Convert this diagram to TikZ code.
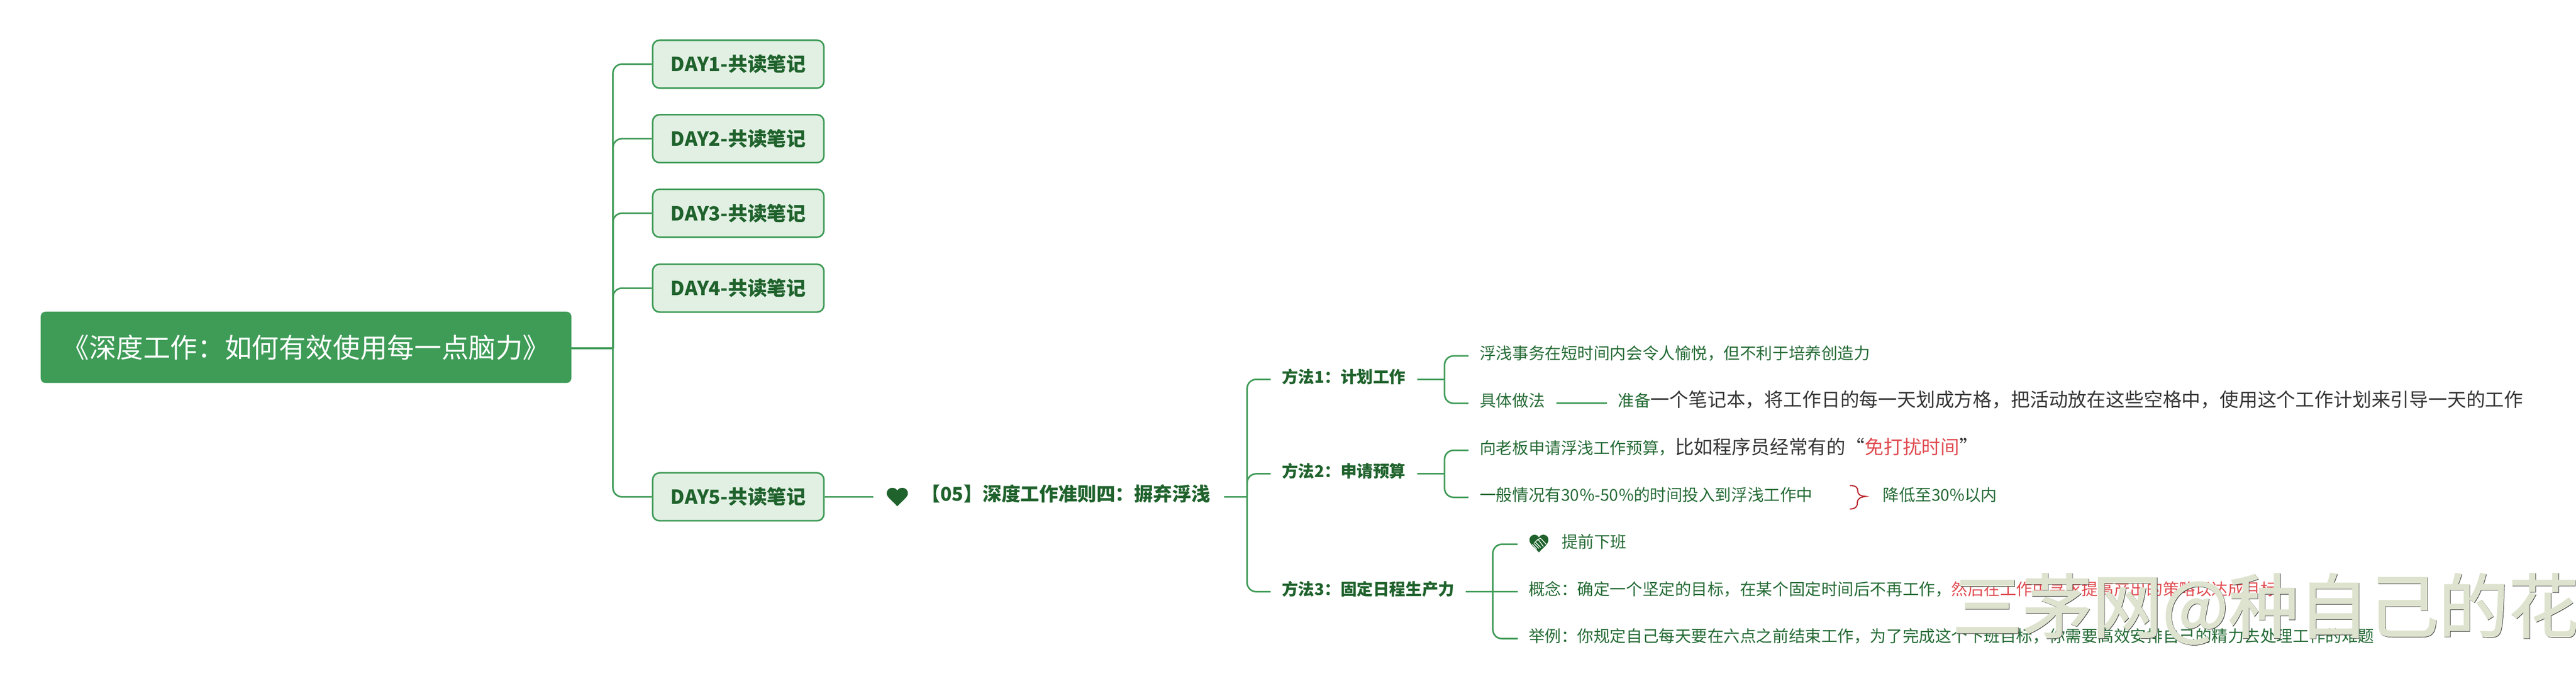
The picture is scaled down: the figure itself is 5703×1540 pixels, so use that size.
\documentclass[tikz,border=0pt]{standalone}
\usepackage{fontspec}
\setmainfont{Noto Sans CJK SC}
\newfontfamily\wmfont[FakeBold=1.6]{Noto Sans CJK SC}
\definecolor{linegreen}{HTML}{3F9B57}
\definecolor{rootgreen}{HTML}{3E9C57}
\definecolor{dayfill}{HTML}{E2F0E4}
\definecolor{darkgreen}{HTML}{1F622C}
\definecolor{midgreen}{HTML}{256B35}
\definecolor{notegrey}{HTML}{353535}
\definecolor{notered}{HTML}{E04B50}
\definecolor{bracered}{HTML}{B9252B}
\definecolor{markcolor}{HTML}{DDE3CE}
\tikzset{
  x=1pt,y=-1pt,
  conn/.style={draw=linegreen,line width=3.5pt,rounded corners=20pt},
  rootbox/.style={fill=rootgreen,rounded corners=11pt,minimum width=1175pt,minimum height=158pt,text=white,font=\fontsize{60}{60}\selectfont,inner sep=0pt},
  daybox/.style={draw=linegreen,line width=3.5pt,fill=dayfill,rounded corners=15pt,minimum width=379pt,minimum height=106pt,text=darkgreen,font=\fontsize{43}{43}\selectfont\bfseries,inner sep=0pt},
  topic/.style={anchor=west,inner xsep=30pt,inner ysep=0pt,text=darkgreen,font=\fontsize{42}{42}\selectfont\bfseries,text height=36pt,text depth=18pt},
  method/.style={anchor=west,inner xsep=25pt,inner ysep=0pt,text=darkgreen,font=\fontsize{36}{36}\selectfont\bfseries,text height=31pt,text depth=16pt},
  leaf/.style={anchor=west,inner xsep=25pt,inner ysep=0pt,text=midgreen,font=\fontsize{36}{36}\selectfont,text height=31pt,text depth=15pt},
  iconholder/.style={inner sep=0pt,minimum height=10pt},
  markstyle/.style={anchor=base west,inner sep=0pt,font=\wmfont\fontsize{155}{155}\selectfont},
}
\begin{document}
\begin{tikzpicture}
\useasboundingbox (0,0) rectangle (5703,1540);
% main nodes
\node[rootbox] (root) at (677.5,769) {《深度工作：如何有效使用每一点脑力》};
\node[daybox] (d1) at (1634.5,142) {DAY1-共读笔记};
\node[daybox] (d2) at (1634.5,307) {DAY2-共读笔记};
\node[daybox] (d3) at (1634.5,472) {DAY3-共读笔记};
\node[daybox] (d4) at (1634.5,638) {DAY4-共读笔记};
\node[daybox] (d5) at (1634.5,1100) {DAY5-共读笔记};
\node[iconholder,minimum width=85pt] (hrt) at (1975.5,1100) {};
\node[topic] (t) at (2010,1100) {【05】深度工作准则四：摒弃浮浅};
\node[method] (m1) at (2813,840) {方法1：计划工作};
\node[method] (m2) at (2813,1049) {方法2：申请预算};
\node[method] (m3) at (2813,1310) {方法3：固定日程生产力};
\node[leaf] (a1) at (3251,788) {浮浅事务在短时间内会令人愉悦，但不利于培养创造力};
\node[leaf] (a2) at (3251,893) {具体做法};
\node[leaf,inner xsep=24pt,text=midgreen] (a3) at (3558,893) {准备\textcolor{notegrey}{\fontsize{42}{42}\selectfont 一个笔记本，将工作日的每一天划成方格，把活动放在这些空格中，使用这个工作计划来引导一天的工作}};
\node[leaf] (b1) at (3251,997) {向老板申请浮浅工作预算，\textcolor{notegrey}{\fontsize{42}{42}\selectfont 比如程序员经常有的“}\textcolor{notered}{\fontsize{42}{42}\selectfont 免打扰时间}\textcolor{notegrey}{\fontsize{42}{42}\selectfont ”}};
\node[leaf] (b2) at (3251,1101) {一般情况有30\hspace{1pt}\%-50\hspace{1pt}\%的时间投入到浮浅工作中};
\node[leaf,inner xsep=0pt] (b3) at (4168,1101) {降低至30\%以内};
\node[iconholder,minimum width=72pt] (hh) at (3396,1205) {};
\node[leaf,inner xsep=0pt] (c1) at (3457,1205) {提前下班};
\node[leaf,inner xsep=24pt] (c2) at (3360,1310) {概念：确定一个坚定的目标，在某个固定时间后不再工作，\textcolor{notered}{然后在工作中寻求提高产出的策略以达成目标}};
\node[leaf,inner xsep=24pt] (c3) at (3360,1414) {举例：你规定自己每天要在六点之前结束工作，为了完成这个下班目标，你需要高效安排自己的精力去处理工作的难题};
% junctions
\coordinate (jr) at (1357,771);
\coordinate (jt) at (2761,1100);
\coordinate (j1) at (3198,840);
\coordinate (j2) at (3198,1049);
\coordinate (j3) at (3305,1310);
% connectors
\draw[conn] (root.east |- jr) -- (jr);
\foreach \n in {d1,d2,d3,d4,d5} \draw[conn] (jr) |- (\n.west);
\draw[conn] (d5.east) -- (hrt.west);
\draw[conn] (t.east) -- (jt);
\foreach \n in {m1,m2,m3} \draw[conn] (jt) |- (\n.west);
\draw[conn] (m1.east) -- (j1);
\draw[conn] (j1) |- (a1.west);
\draw[conn] (j1) |- (a2.west);
\draw[conn] (a2.east) -- (a3.west);
\draw[conn] (m2.east) -- (j2);
\draw[conn] (j2) |- (b1.west);
\draw[conn] (j2) |- (b2.west);
\draw[conn] (m3.east) -- (c2.west);
\draw[conn] (j3) |- (hh.west);
\draw[conn] (j3) |- (c3.west);
% heart icon
\fill[darkgreen] (1986.5,1121) .. controls (1975,1108) and (1963,1101) .. (1963,1092)
  .. controls (1963,1085) and (1969,1080) .. (1975,1080)
  .. controls (1980,1080) and (1984,1082) .. (1986.5,1086)
  .. controls (1989,1082) and (1993,1080) .. (1998,1080)
  .. controls (2004,1080) and (2010,1085) .. (2010,1092)
  .. controls (2010,1101) and (1998,1108) .. (1986.5,1121) -- cycle;
% handshake heart icon
\fill[darkgreen] (3407,1223) .. controls (3398,1212) and (3386,1206) .. (3386,1195)
  .. controls (3386,1188) and (3392,1184) .. (3397,1184)
  .. controls (3402,1184) and (3405,1186) .. (3407,1190)
  .. controls (3409,1186) and (3412,1184) .. (3417,1184)
  .. controls (3423,1184) and (3428,1188) .. (3428,1195)
  .. controls (3428,1206) and (3416,1212) .. (3407,1223) -- cycle;
\draw[white,line width=1.6pt] (3397,1202) -- (3405,1194) -- (3411,1192) -- (3423,1205);
\draw[white,line width=1.6pt] (3405,1194) -- (3417,1210);
\draw[white,line width=1.6pt] (3392,1205) -- (3402,1216);
\draw[white,line width=1.6pt] (3396,1203) -- (3407,1214);
\draw[white,line width=1.6pt] (3400,1201) -- (3411,1212);
% red brace
\draw[bracered,line width=2.5pt,line cap=round] (4096,1075) .. controls (4108,1075) and (4113,1079) .. (4113,1087)
  .. controls (4113,1095) and (4118,1098) .. (4130,1099)
  .. controls (4118,1101) and (4112,1104) .. (4112,1113)
  .. controls (4112,1122) and (4108,1126) .. (4096,1127);
% watermark
\node[markstyle,text=notegrey] (wmshadow) at (4323,1401) {三茅网@种自己的花};
\node[markstyle,text=markcolor] (wm) at (4322,1400) {三茅网@种自己的花};
\end{tikzpicture}
\end{document}
